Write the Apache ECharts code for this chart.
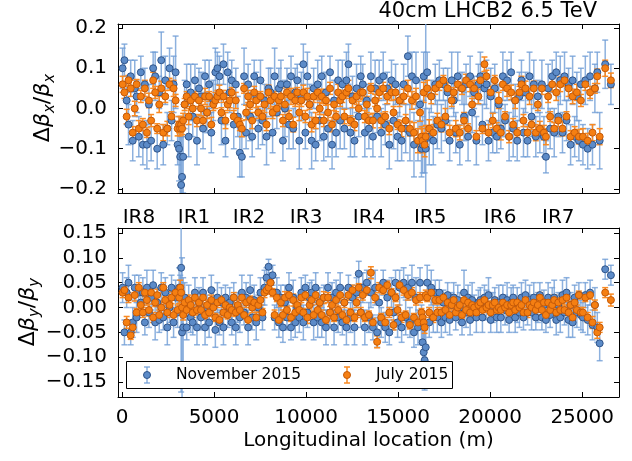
<!DOCTYPE html>
<html>
<head>
<meta charset="utf-8">
<script src="https://cdn.jsdelivr.net/npm/echarts@6/dist/echarts.min.js"></script>
<style>
  html, body { margin: 0; padding: 0; background: #fff; }
  #chart { width: 632px; height: 461px; }
</style>
</head>
<body>
<div id="chart"></div>
<script>
// BPM positions along the ring (m), shared by all series
const bpmS = [
  30, 130, 250, 350, 470, 580, 690, 790, 910, 1020,
  1130, 1240, 1350, 1460, 1580, 1690, 1800, 1910, 2020, 2130,
  2240, 2350, 2460, 2580, 2690, 2800, 2910, 3020, 3100, 3160,
  3210, 3260, 3320, 3400, 3510, 3620, 3730, 3840, 3960, 4070,
  4180, 4290, 4400, 4510, 4620, 4730, 4850, 4960, 5070, 5180,
  5290, 5400, 5510, 5620, 5740, 5850, 5960, 6070, 6180, 6290,
  6400, 6510, 6630, 6740, 6850, 6960, 7070, 7180, 7290, 7400,
  7520, 7630, 7740, 7850, 7960, 8070, 8180, 8290, 8410, 8520,
  8630, 8740, 8850, 8960, 9070, 9180, 9300, 9410, 9520, 9630,
  9740, 9850, 9960, 10070, 10190, 10300, 10410, 10520, 10630, 10740,
  10850, 10960, 11080, 11190, 11300, 11410, 11520, 11630, 11740, 11850,
  11970, 12080, 12190, 12300, 12410, 12520, 12630, 12740, 12860, 12970,
  13080, 13190, 13300, 13410, 13520, 13630, 13750, 13860, 13970, 14080,
  14190, 14300, 14410, 14520, 14640, 14750, 14860, 14970, 15080, 15190,
  15300, 15410, 15530, 15640, 15750, 15860, 15970, 16080, 16190, 16270,
  16330, 16390, 16440, 16500, 16580, 16690, 16800, 16910, 17020, 17130,
  17240, 17350, 17460, 17570, 17690, 17800, 17910, 18020, 18130, 18240,
  18350, 18470, 18580, 18690, 18800, 18910, 19020, 19130, 19250, 19360,
  19470, 19580, 19690, 19800, 19910, 20030, 20140, 20250, 20360, 20470,
  20580, 20690, 20810, 20920, 21030, 21140, 21250, 21360, 21470, 21590,
  21700, 21810, 21920, 22030, 22140, 22250, 22370, 22480, 22590, 22700,
  22810, 22920, 23030, 23150, 23260, 23370, 23480, 23590, 23700, 23810,
  23930, 24040, 24150, 24260, 24370, 24480, 24590, 24710, 24820, 24930,
  25040, 25170, 25300, 25430, 25560, 25690, 25820, 25950, 26250, 26560
];

// horizontal beta-beating, November 2015
const novX = [
  0.10, 0.12, 0.02, -0.04, 0.08, -0.08, 0.05, 0.03, -0.07, 0.09,
  -0.09, 0.06, -0.09, 0.01, -0.08, 0.10, 0.08, -0.10, 0.04, 0.12,
  -0.09, 0.07, -0.05, 0.10, -0.03, 0.06, 0.09, -0.09, -0.10, -0.12,
  -0.19, -0.17, -0.12, 0.01, 0.06, -0.07, 0.04, -0.02, 0.07, -0.08,
  0.05, 0.03, -0.05, 0.08, -0.01, 0.06, -0.06, 0.02, 0.09, 0.10,
  0.08, -0.03, 0.11, -0.08, 0.09, 0.04, 0.07, -0.04, 0.06, -0.02,
  -0.11, -0.12, 0.08, -0.06, 0.06, -0.02, -0.07, 0.08, 0.03, -0.05,
  0.07, -0.03, 0.02, -0.07, 0.05, 0.04, -0.06, 0.08, -0.01, 0.05,
  0.06, -0.08, 0.00, 0.06, -0.04, 0.08, -0.05, 0.04, 0.07, -0.08,
  0.03, 0.11, -0.06, 0.08, 0.01, -0.08, 0.05, -0.09, 0.06, -0.03,
  0.08, -0.07, 0.04, -0.05, 0.09, -0.09, 0.02, -0.06, 0.07, -0.03,
  0.06, -0.05, 0.07, 0.11, -0.06, 0.03, -0.08, 0.05, -0.02, 0.08,
  0.06, -0.06, 0.02, -0.05, 0.08, -0.07, 0.05, -0.02, 0.07, -0.06,
  0.08, -0.04, 0.05, -0.09, 0.07, -0.03, 0.06, -0.07, 0.02, -0.08,
  0.06, -0.05, 0.13, -0.06, 0.08, -0.09, 0.07, -0.08, 0.01, -0.10,
  -0.09, 0.08, -0.08, -0.10, 0.09, -0.07, 0.03, -0.08, 0.06, -0.04,
  0.07, -0.05, 0.06, -0.03, 0.04, -0.08, 0.07, 0.02, -0.06, 0.08,
  -0.09, 0.05, -0.02, 0.06, -0.07, 0.08, -0.01, 0.04, -0.08, 0.06,
  0.08, -0.04, 0.05, 0.06, -0.08, 0.03, -0.06, 0.05, -0.07, 0.01,
  -0.05, 0.08, -0.03, 0.07, -0.07, 0.09, -0.05, 0.02, -0.08, 0.03,
  0.07, -0.06, 0.04, -0.08, 0.08, -0.02, 0.06, -0.07, 0.03, -0.06,
  0.06, -0.07, -0.12, 0.05, -0.05, 0.08, -0.06, 0.09, -0.02, 0.07,
  -0.06, 0.08, -0.03, 0.06, -0.09, 0.07, -0.07, 0.03, -0.08, 0.06,
  -0.09, 0.07, -0.10, 0.08, -0.09, 0.05, 0.09, -0.08, 0.11, 0.06
];
const errNovX = [
  .05, .04, .06, .05, .04, .05, .07, .04, .05, .04,
  .05, .04, .06, .05, .05, .04, .06, .05, .04, .07,
  .05, .06, .04, .05, .05, .07, .09, .05, .08, .10,
  .12, .10, .09, .06, .05, .05, .07, .05, .04, .06,
  .05, .06, .05, .04, .05, .06, .05, .05, .06, .04,
  .05, .06, .05, .04, .05, .05, .05, .06, .04, .05,
  .06, .05, .07, .04, .05, .06, .05, .04, .06, .05,
  .05, .06, .04, .07, .05, .06, .05, .07, .04, .05,
  .06, .05, .07, .04, .06, .05, .05, .06, .04, .07,
  .06, .05, .04, .06, .05, .07, .05, .04, .06, .05,
  .05, .06, .05, .07, .04, .06, .05, .06, .05, .07,
  .06, .05, .07, .05, .06, .05, .04, .06, .05, .05,
  .05, .06, .04, .05, .06, .05, .07, .04, .05, .06,
  .06, .05, .04, .06, .05, .07, .05, .06, .04, .05,
  .05, .06, .05, .07, .06, .08, .07, .05, .06, .07,
  .07, .06, .08, .32, .05, .07, .04, .06, .05, .06,
  .05, .06, .04, .05, .06, .05, .07, .04, .05, .06,
  .05, .04, .06, .05, .06, .05, .05, .04, .06, .05,
  .06, .05, .04, .06, .05, .07, .05, .06, .04, .05,
  .05, .06, .04, .05, .06, .05, .07, .04, .05, .06,
  .05, .06, .05, .04, .06, .05, .06, .05, .04, .05,
  .06, .05, .04, .06, .05, .04, .06, .05, .05, .06,
  .05, .06, .05, .04, .05, .06, .05, .06, .05, .04,
  .05, .06, .05, .06, .05, .06, .05, .07, .06, .05
];

// horizontal beta-beating, July 2015
const julX = [
  0.06, 0.04, -0.02, 0.07, 0.05, -0.06, 0.00, 0.06, -0.05, 0.03,
  -0.04, 0.05, -0.06, 0.02, -0.03, 0.07, 0.04, -0.05, 0.01, 0.05,
  -0.06, 0.03, -0.05, 0.06, -0.02, 0.05, 0.02, -0.05, -0.04, -0.05,
  -0.04, -0.05, -0.03, 0.01, 0.03, -0.02, 0.02, 0.00, 0.03, -0.03,
  0.02, 0.00, -0.03, 0.03, -0.01, 0.03, -0.04, 0.01, 0.02, 0.03,
  0.04, -0.01, 0.03, -0.03, 0.01, 0.02, 0.04, -0.02, 0.02, -0.03,
  -0.04, -0.05, 0.05, -0.01, 0.03, 0.01, -0.03, 0.04, 0.02, -0.01,
  0.03, -0.02, 0.01, -0.04, 0.04, 0.02, -0.01, 0.03, 0.00, 0.02,
  0.03, -0.03, 0.01, 0.04, -0.02, 0.03, -0.04, 0.02, 0.04, -0.01,
  0.02, 0.04, -0.02, 0.03, 0.01, -0.04, 0.03, -0.03, 0.04, 0.00,
  0.03, -0.03, 0.02, -0.01, 0.05, -0.04, 0.01, -0.02, 0.04, 0.02,
  0.03, -0.02, 0.04, 0.05, -0.03, 0.02, -0.04, 0.03, 0.00, 0.04,
  0.04, -0.02, 0.01, -0.03, 0.05, -0.03, 0.02, 0.00, 0.04, -0.03,
  0.05, -0.02, 0.03, -0.05, 0.04, -0.01, 0.04, -0.04, 0.02, -0.05,
  0.03, -0.03, 0.05, -0.05, 0.02, -0.06, 0.03, -0.08, -0.01, -0.07,
  -0.08, 0.04, -0.09, -0.07, 0.05, -0.05, 0.03, -0.06, 0.05, -0.03,
  0.06, -0.04, 0.07, -0.02, 0.05, -0.06, 0.02, 0.04, -0.05, 0.06,
  -0.06, 0.05, -0.03, 0.07, -0.05, 0.06, 0.01, 0.05, -0.07, 0.03,
  0.07, -0.05, 0.11, 0.08, -0.06, 0.04, -0.03, 0.07, -0.05, 0.02,
  -0.06, 0.06, -0.02, 0.05, -0.07, 0.04, -0.04, 0.02, -0.06, 0.04,
  0.06, -0.03, 0.05, -0.06, 0.03, -0.04, 0.05, -0.06, 0.01, -0.05,
  0.05, -0.06, -0.07, 0.03, -0.02, 0.06, -0.05, 0.04, -0.03, 0.06,
  -0.05, 0.07, -0.02, 0.05, -0.07, 0.03, -0.06, 0.04, -0.07, 0.02,
  -0.07, 0.06, -0.08, 0.04, -0.06, 0.05, 0.08, -0.07, 0.10, 0.07
];
const errJulX = [
  .020, .015, .018, .012, .020, .015, .018, .012, .020, .015,
  .015, .020, .012, .018, .015, .020, .015, .012, .020, .018,
  .020, .015, .018, .015, .012, .020, .015, .018, .020, .018,
  .020, .015, .018, .015, .012, .020, .015, .018, .012, .015,
  .015, .018, .012, .020, .015, .012, .018, .015, .020, .015,
  .018, .012, .015, .020, .015, .018, .012, .015, .020, .015,
  .015, .020, .012, .018, .015, .012, .020, .015, .018, .015,
  .012, .015, .020, .015, .018, .020, .015, .012, .018, .015,
  .020, .015, .018, .012, .015, .020, .018, .015, .012, .020,
  .015, .018, .015, .020, .012, .018, .015, .020, .018, .015,
  .018, .015, .012, .020, .015, .018, .015, .012, .020, .015,
  .015, .018, .015, .020, .012, .018, .015, .020, .018, .015,
  .018, .015, .020, .015, .012, .018, .015, .020, .015, .018,
  .015, .012, .018, .015, .020, .015, .018, .012, .015, .020,
  .018, .015, .020, .018, .022, .025, .020, .030, .022, .025,
  .030, .025, .030, .028, .020, .022, .018, .020, .015, .018,
  .015, .018, .012, .020, .015, .018, .015, .012, .020, .015,
  .018, .015, .020, .015, .012, .018, .015, .020, .015, .018,
  .015, .012, .018, .015, .020, .015, .018, .012, .015, .020,
  .018, .015, .012, .020, .015, .018, .015, .020, .012, .015,
  .020, .015, .018, .015, .020, .012, .018, .020, .015, .018,
  .015, .018, .020, .015, .012, .018, .015, .020, .015, .018,
  .018, .015, .012, .020, .015, .018, .015, .020, .018, .015,
  .020, .015, .018, .015, .020, .012, .018, .020, .020, .018
];

// vertical beta-beating, November 2015
const novY = [
  0.04, -0.05, 0.03, 0.05, -0.05, -0.03, 0.04, -0.02, 0.03, 0.01,
  0.03, -0.03, 0.04, -0.01, 0.02, 0.045, -0.03, 0.01, -0.025, 0.04,
  -0.02, 0.03, -0.04, 0.00, 0.04, -0.03, 0.02, -0.01, 0.04, 0.03,
  0.08, -0.05, -0.04, 0.02, -0.04, 0.01, -0.02, -0.03, 0.03, -0.04,
  0.01, -0.02, 0.03, -0.04, 0.00, -0.03, 0.035, 0.01, -0.045, 0.02,
  -0.03, 0.01, -0.04, 0.02, -0.01, 0.01, -0.03, 0.02, -0.04, 0.00,
  -0.02, 0.03, -0.01, 0.02, -0.04, 0.035, -0.02, 0.015, -0.03, 0.00,
  0.03, -0.02, 0.04, 0.06, 0.082, 0.05, 0.065, -0.02, 0.03, -0.03,
  0.02, -0.04, 0.01, -0.02, 0.04, -0.04, 0.02, -0.03, 0.00, -0.02,
  0.03, -0.03, 0.04, -0.01, 0.02, 0.03, -0.03, 0.04, -0.02, 0.01,
  -0.03, 0.02, -0.04, 0.04, -0.01, 0.02, -0.04, 0.03, -0.02, 0.04,
  -0.03, 0.01, -0.04, 0.04, -0.02, 0.02, -0.04, 0.03, 0.068, -0.01,
  0.04, -0.04, 0.05, -0.02, 0.03, -0.04, 0.04, -0.05, 0.01, -0.03,
  0.05, -0.04, 0.02, -0.05, 0.03, -0.01, 0.05, -0.03, 0.04, -0.04,
  0.05, -0.02, 0.04, -0.03, 0.05, -0.05, 0.02, -0.04, 0.05, -0.03,
  -0.07, -0.09, -0.106, -0.08, 0.05, -0.03, 0.04, -0.02, 0.03, -0.02,
  0.03, -0.03, 0.01, -0.02, 0.025, -0.025, 0.005, 0.02, -0.02, 0.015,
  0.00, -0.03, 0.03, -0.01, 0.02, -0.025, 0.015, 0.00, -0.02, 0.01,
  0.015, -0.02, 0.02, 0.005, 0.025, -0.025, 0.00, 0.015, -0.02, 0.01,
  -0.02, 0.02, -0.005, 0.015, -0.025, 0.01, 0.02, -0.02, 0.005, -0.01,
  0.02, -0.02, 0.025, -0.01, 0.015, -0.01, 0.02, -0.02, 0.00, 0.025,
  -0.02, 0.005, -0.025, 0.02, -0.015, 0.01, 0.02, -0.025, 0.005, -0.02,
  0.025, -0.01, 0.03, -0.025, 0.005, -0.03, 0.02, -0.01, 0.025, -0.015,
  -0.02, 0.025, -0.025, 0.03, -0.035, 0.005, -0.04, -0.072, 0.077, 0.065
];
const errNovY = [
  .030, .025, .030, .035, .025, .030, .025, .030, .035, .025,
  .030, .025, .035, .030, .025, .030, .035, .030, .025, .030,
  .025, .030, .035, .030, .025, .030, .035, .030, .040, .035,
  .250, .150, .100, .030, .025, .035, .030, .025, .030, .035,
  .030, .025, .030, .035, .025, .030, .030, .025, .035, .030,
  .025, .030, .035, .025, .030, .030, .025, .030, .035, .030,
  .030, .035, .025, .030, .035, .030, .025, .030, .035, .025,
  .030, .025, .035, .020, .015, .020, .020, .025, .030, .030,
  .025, .030, .035, .025, .030, .025, .035, .030, .025, .030,
  .030, .035, .025, .030, .030, .025, .035, .030, .040, .030,
  .030, .025, .035, .030, .025, .030, .035, .025, .030, .030,
  .025, .030, .035, .025, .030, .025, .035, .030, .025, .030,
  .030, .035, .025, .030, .030, .025, .035, .030, .025, .030,
  .025, .030, .035, .025, .030, .035, .025, .030, .035, .030,
  .030, .035, .025, .030, .035, .030, .040, .035, .030, .035,
  .040, .050, .060, .050, .035, .030, .035, .030, .025, .030,
  .025, .030, .025, .030, .025, .030, .025, .030, .025, .030,
  .030, .025, .045, .030, .025, .030, .035, .025, .030, .025,
  .025, .030, .025, .030, .035, .025, .030, .025, .030, .035,
  .030, .025, .030, .035, .025, .030, .025, .030, .035, .030,
  .030, .025, .030, .025, .030, .035, .030, .025, .030, .025,
  .025, .030, .025, .030, .025, .030, .035, .030, .025, .030,
  .030, .025, .030, .035, .025, .030, .025, .030, .025, .030,
  .030, .025, .030, .025, .030, .035, .030, .035, .020, .020
];

// vertical beta-beating, July 2015
const julY = [
  0.03, 0.035, -0.03, 0.02, -0.056, -0.04, 0.025, -0.01, 0.04, 0.005,
  -0.01, 0.03, 0.015, -0.005, 0.03, -0.02, 0.01, 0.025, -0.015, 0.00,
  0.04, 0.015, -0.01, 0.005, 0.02, -0.015, 0.03, -0.005, 0.02, 0.04,
  0.03, 0.00, -0.015, 0.01, -0.005, 0.015, 0.005, -0.01, 0.02, -0.005,
  0.01, -0.005, 0.02, -0.015, 0.005, -0.01, 0.015, 0.00, -0.02, 0.01,
  -0.025, 0.015, -0.01, 0.005, -0.015, 0.00, -0.005, 0.02, -0.01, 0.005,
  -0.005, 0.02, -0.015, 0.01, -0.025, 0.015, 0.00, 0.01, -0.02, 0.005,
  0.015, -0.01, 0.03, 0.035, 0.04, 0.05, 0.03, -0.015, 0.02, -0.025,
  0.01, -0.015, 0.02, -0.005, 0.025, -0.02, 0.015, -0.01, 0.005, -0.005,
  0.02, -0.01, 0.025, -0.02, 0.005, 0.015, -0.015, 0.025, -0.005, 0.01,
  -0.015, 0.02, -0.025, 0.02, -0.01, 0.005, -0.02, 0.015, -0.005, 0.025,
  -0.015, 0.01, -0.025, 0.025, -0.01, 0.035, -0.02, 0.01, 0.04, -0.01,
  0.025, -0.02, 0.035, -0.015, 0.07, -0.03, 0.02, -0.069, 0.04, -0.02,
  0.035, -0.03, 0.045, -0.01, 0.03, -0.035, 0.02, -0.005, 0.045, -0.02,
  0.035, -0.015, 0.025, -0.035, 0.03, -0.02, 0.015, -0.03, 0.02, -0.01,
  -0.02, -0.03, -0.04, 0.025, 0.02, -0.01, 0.03, -0.02, 0.015, -0.01,
  0.015, -0.01, 0.02, -0.005, 0.01, -0.015, 0.005, 0.015, -0.01, 0.00,
  0.005, -0.015, 0.015, -0.005, 0.01, -0.01, 0.005, 0.00, -0.01, 0.005,
  0.01, -0.005, 0.015, 0.00, 0.005, -0.01, 0.005, 0.01, -0.005, 0.00,
  -0.005, 0.01, 0.00, 0.005, -0.01, 0.005, 0.01, -0.005, 0.01, 0.00,
  0.005, -0.01, 0.015, -0.01, 0.005, 0.00, 0.01, -0.005, 0.005, 0.02,
  -0.005, 0.01, -0.015, 0.01, -0.005, 0.005, 0.015, -0.01, 0.01, -0.005,
  0.015, -0.005, 0.02, -0.01, 0.005, -0.02, 0.01, -0.005, 0.025, -0.01,
  -0.01, 0.02, -0.02, 0.025, -0.03, 0.005, -0.05, -0.04, 0.03, 0.015
];
const errJulY = [
  .010, .008, .012, .010, .008, .010, .012, .008, .010, .008,
  .010, .008, .010, .012, .008, .010, .008, .012, .010, .012,
  .010, .008, .010, .008, .012, .010, .008, .010, .012, .015,
  .015, .012, .010, .008, .012, .010, .008, .010, .008, .010,
  .008, .010, .012, .008, .010, .008, .010, .012, .008, .010,
  .010, .008, .010, .012, .008, .010, .012, .010, .008, .010,
  .008, .010, .008, .010, .012, .008, .010, .008, .010, .012,
  .010, .008, .010, .008, .010, .012, .008, .010, .008, .010,
  .008, .010, .012, .008, .010, .008, .012, .012, .010, .012,
  .010, .008, .010, .012, .008, .010, .008, .010, .012, .008,
  .010, .012, .008, .010, .012, .010, .008, .010, .008, .010,
  .008, .010, .008, .010, .008, .010, .008, .010, .008, .010,
  .010, .008, .010, .008, .012, .008, .010, .012, .010, .008,
  .008, .010, .008, .010, .008, .010, .008, .010, .008, .010,
  .010, .008, .010, .008, .010, .008, .010, .008, .010, .008,
  .012, .012, .012, .010, .008, .010, .008, .010, .008, .010,
  .008, .010, .008, .010, .008, .010, .008, .010, .008, .010,
  .010, .008, .010, .008, .010, .008, .010, .008, .010, .008,
  .008, .010, .008, .010, .008, .010, .008, .010, .008, .010,
  .010, .008, .010, .008, .010, .008, .010, .008, .010, .008,
  .008, .010, .008, .010, .008, .010, .008, .010, .008, .010,
  .010, .008, .010, .008, .010, .008, .010, .008, .010, .008,
  .008, .010, .008, .010, .008, .010, .008, .010, .008, .010,
  .010, .008, .010, .008, .012, .010, .012, .010, .010, .012
];

// tick labels
const xTicks = [0, 5000, 10000, 15000, 20000, 25000];
const yTicksTop = [-0.2, -0.1, 0, 0.1, 0.2];
const yTicksBottom = [-0.15, -0.10, -0.05, 0, 0.05, 0.10, 0.15];
const irNames = ['IR8', 'IR1', 'IR2', 'IR3', 'IR4', 'IR5', 'IR6', 'IR7'];
const irPos = [920, 3910, 6900, 10000, 13420, 16740, 20540, 23700];
const legendNames = ['November 2015', 'July 2015'];

const FONT = 'DejaVu Sans';
const BLUE = '#5c8bc8', BLUE_EDGE = '#30558a', BLUE_ERR = 'rgba(112,158,214,0.8)';
const ORANGE = '#f57f12', ORANGE_EDGE = '#c55a08', ORANGE_ERR = '#f98a22';

function fmt(dec) {
  return function (v) {
    const s = Math.abs(v).toFixed(dec);
    return (v < -1e-9 ? '\u2212' : '') + s;
  };
}

function errRender(color) {
  return function (params, api) {
    const x = api.value(0), y = api.value(1), e = api.value(2);
    const top = api.coord([x, y + e]);
    const bot = api.coord([x, y - e]);
    const cap = 3;
    const style = { stroke: color, lineWidth: 1.5, fill: null };
    return {
      type: 'group',
      children: [
        { type: 'line', shape: { x1: top[0], y1: top[1], x2: bot[0], y2: bot[1] }, style: style },
        { type: 'line', shape: { x1: top[0] - cap, y1: top[1], x2: top[0] + cap, y2: top[1] }, style: style },
        { type: 'line', shape: { x1: bot[0] - cap, y1: bot[1], x2: bot[0] + cap, y2: bot[1] }, style: style }
      ]
    };
  };
}

// legend entry drawn as error-bar glyph + label
function legendEntry(cx, name, fill, edge, err) {
  const ls = { stroke: err, lineWidth: 1.5 };
  return [
    { type: 'line', z: 101, shape: { x1: cx, y1: 367, x2: cx, y2: 383 }, style: ls },
    { type: 'line', z: 101, shape: { x1: cx - 3, y1: 367, x2: cx + 3, y2: 367 }, style: ls },
    { type: 'line', z: 101, shape: { x1: cx - 3, y1: 383, x2: cx + 3, y2: 383 }, style: ls },
    { type: 'circle', z: 102, shape: { cx: cx, cy: 375, r: 3.5 }, style: { fill: fill, stroke: edge, lineWidth: 1 } },
    { type: 'text', z: 102, x: cx + 29, y: 375,
      style: { text: name, fontFamily: FONT, fontSize: 15.5, fill: '#000', verticalAlign: 'middle' } }
  ];
}

function xAxisDef(grid, pos, labels, extra) {
  return Object.assign({
    type: 'value', gridIndex: grid, position: pos, min: -220, max: 27000,
    axisLine: { show: true, onZero: false, lineStyle: { color: '#000', width: 1 } },
    axisTick: { show: true, inside: true, length: 5, customValues: xTicks, lineStyle: { color: '#000' } },
    axisLabel: { show: labels, customValues: xTicks, margin: 11, color: '#000', fontFamily: FONT, fontSize: 20,
      formatter: function (v) { return String(v); } },
    splitLine: { show: false }
  }, extra || {});
}

function yAxisDef(grid, pos, labels, min, max, ticks, dec) {
  return {
    type: 'value', gridIndex: grid, position: pos, min: min, max: max,
    axisLine: { show: true, onZero: false, lineStyle: { color: '#000', width: 1 } },
    axisTick: { show: true, inside: true, length: 5, customValues: ticks, lineStyle: { color: '#000' } },
    axisLabel: { show: labels, customValues: ticks, margin: 11, color: '#000', fontFamily: FONT, fontSize: 20, formatter: fmt(dec) },
    splitLine: { show: false }
  };
}

function ylabelRich(sub) {
  return {
    text: '{d|\u0394}{b|\u03b2}{s|' + sub + '}{d|/}{b|\u03b2}{s|' + sub + '}',
    rich: {
      d: { fontFamily: FONT, fontSize: 22, lineHeight: 30, verticalAlign: 'middle', fill: '#000' },
      b: { fontFamily: FONT, fontSize: 22, fontStyle: 'italic', lineHeight: 30, verticalAlign: 'middle', fill: '#000' },
      s: { fontFamily: FONT, fontSize: 15, fontStyle: 'italic', lineHeight: 17, verticalAlign: 'bottom', fill: '#000' }
    },
    align: 'center', verticalAlign: 'middle'
  };
}

const chart = echarts.init(document.getElementById('chart'), null, { renderer: 'canvas' });

const option = {
  animation: false,
  backgroundColor: '#fff',
  grid: [
    { left: 118, right: 13, top: 24, height: 169 },
    { left: 118, right: 13, top: 228, height: 169 }
  ],
  xAxis: [
    xAxisDef(0, 'bottom', false),
    xAxisDef(0, 'top', false),
    xAxisDef(1, 'bottom', true, {
      name: 'Longitudinal location (m)', nameLocation: 'middle', nameGap: 34,
      nameTextStyle: { color: '#000', fontFamily: FONT, fontSize: 20 }
    }),
    xAxisDef(1, 'top', true, {
      axisLabel: {
        show: true, customValues: irPos, margin: 0, color: '#000', fontFamily: FONT, fontSize: 20,
        formatter: function (v) { return irNames[irPos.indexOf(v)]; }
      }
    })
  ],
  yAxis: [
    yAxisDef(0, 'left', true, -0.21, 0.21, yTicksTop, 1),
    yAxisDef(0, 'right', false, -0.21, 0.21, yTicksTop, 1),
    yAxisDef(1, 'left', true, -0.18, 0.16, yTicksBottom, 2),
    yAxisDef(1, 'right', false, -0.18, 0.16, yTicksBottom, 2)
  ],
  graphic: [
    { type: 'text', right: 35, top: 1, style: { text: '40cm LHCB2 6.5 TeV', fontFamily: FONT, fontSize: 21, fill: '#000' } },
    { type: 'text', x: 43, y: 108, rotation: Math.PI / 2, style: ylabelRich('x') },
    { type: 'text', x: 28, y: 312, rotation: Math.PI / 2, style: ylabelRich('y') },
    { type: 'rect', z: 100, shape: { x: 126.5, y: 361.5, width: 326, height: 27 },
      style: { fill: '#fff', stroke: '#000', lineWidth: 1 } }
  ].concat(
    legendEntry(147, legendNames[0], BLUE, BLUE_EDGE, BLUE_ERR),
    legendEntry(347, legendNames[1], ORANGE, ORANGE_EDGE, ORANGE_ERR)
  ),
  series: [
    // top panel
    { type: 'custom', name: 'November 2015 err', xAxisIndex: 0, yAxisIndex: 0, clip: true, silent: true,
      renderItem: errRender(BLUE_ERR), data: bpmS.map((s, i) => [s, novX[i], errNovX[i]]) },
    { type: 'scatter', name: 'November 2015', xAxisIndex: 0, yAxisIndex: 0, symbolSize: 7, clip: true,
      itemStyle: { color: BLUE, borderColor: BLUE_EDGE, borderWidth: 1, opacity: 1 },
      data: bpmS.map((s, i) => [s, novX[i]]) },
    { type: 'custom', name: 'July 2015 err', xAxisIndex: 0, yAxisIndex: 0, clip: true, silent: true,
      renderItem: errRender(ORANGE_ERR), data: bpmS.map((s, i) => [s, julX[i], errJulX[i]]) },
    { type: 'scatter', name: 'July 2015', xAxisIndex: 0, yAxisIndex: 0, symbolSize: 7, clip: true,
      itemStyle: { color: ORANGE, borderColor: ORANGE_EDGE, borderWidth: 1, opacity: 1 },
      data: bpmS.map((s, i) => [s, julX[i]]) },
    // bottom panel
    { type: 'custom', name: 'November 2015 err', xAxisIndex: 2, yAxisIndex: 2, clip: true, silent: true,
      renderItem: errRender(BLUE_ERR), data: bpmS.map((s, i) => [s, novY[i], errNovY[i]]) },
    { type: 'scatter', name: 'November 2015', xAxisIndex: 2, yAxisIndex: 2, symbolSize: 7, clip: true,
      itemStyle: { color: BLUE, borderColor: BLUE_EDGE, borderWidth: 1, opacity: 1 },
      data: bpmS.map((s, i) => [s, novY[i]]) },
    { type: 'custom', name: 'July 2015 err', xAxisIndex: 2, yAxisIndex: 2, clip: true, silent: true,
      renderItem: errRender(ORANGE_ERR), data: bpmS.map((s, i) => [s, julY[i], errJulY[i]]) },
    { type: 'scatter', name: 'July 2015', xAxisIndex: 2, yAxisIndex: 2, symbolSize: 7, clip: true,
      itemStyle: { color: ORANGE, borderColor: ORANGE_EDGE, borderWidth: 1, opacity: 1 },
      data: bpmS.map((s, i) => [s, julY[i]]) }
  ]
};

chart.setOption(option);
</script>
</body>
</html>
